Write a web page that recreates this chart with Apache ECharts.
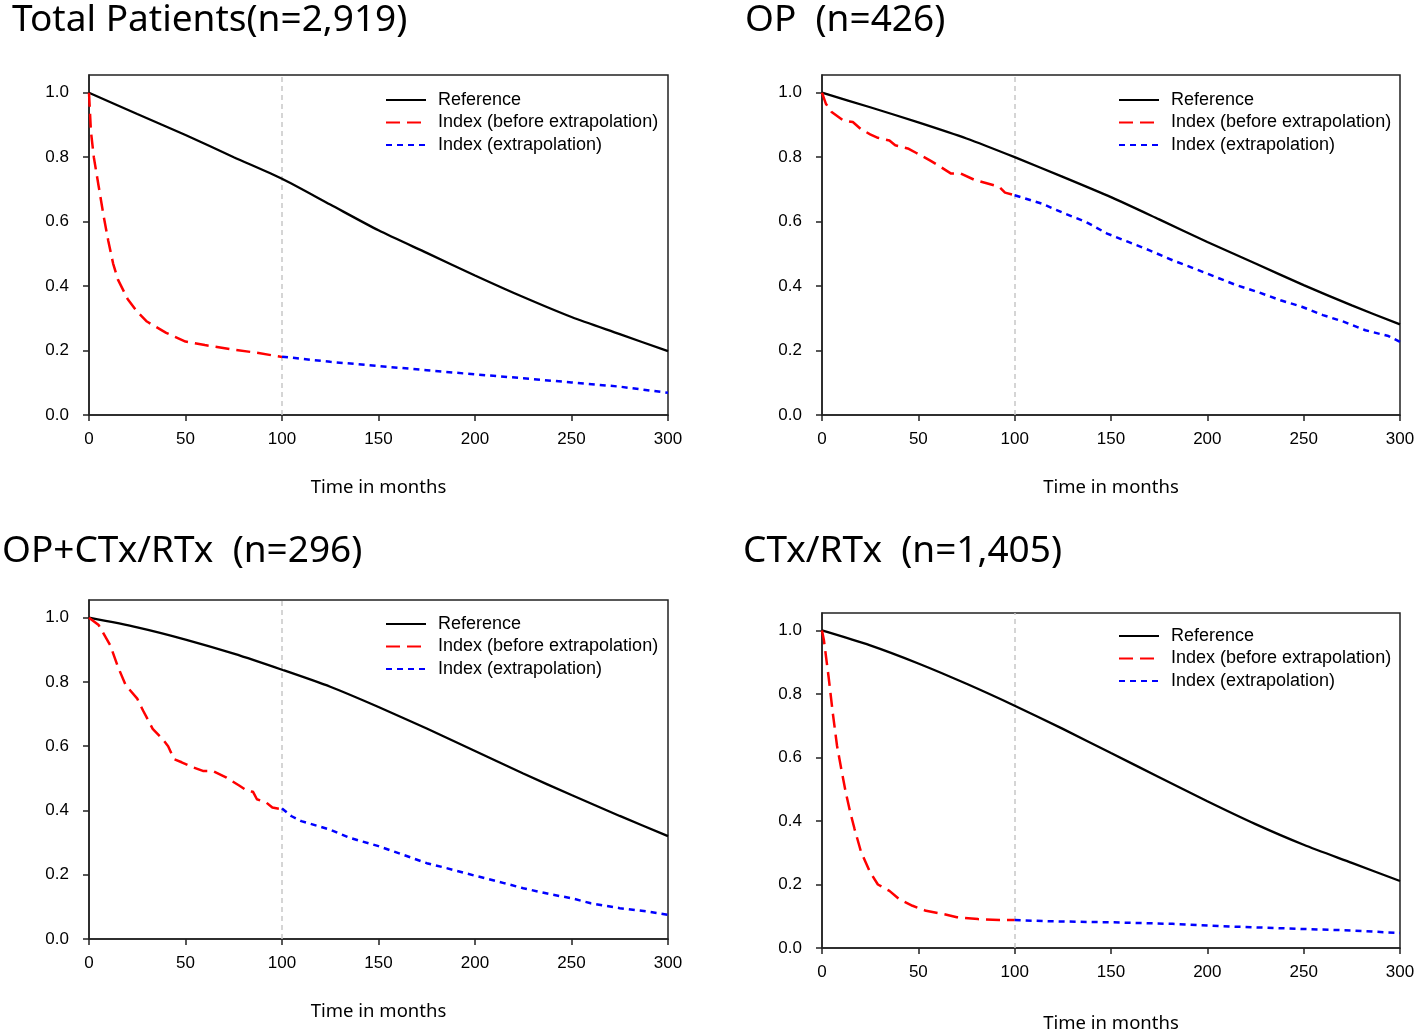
<!DOCTYPE html>
<html>
<head>
<meta charset="utf-8">
<script src="https://cdn.jsdelivr.net/npm/echarts@6/dist/echarts.min.js"></script>
<style>
  html, body { margin: 0; padding: 0; background: #fff; }
  #main { width: 1418px; height: 1034px; }
</style>
</head>
<body>
<div id="main"></div>
<script>
var chart = echarts.init(document.getElementById('main'));

var panelTitles = ['Total Patients(n=2,919)', 'OP  (n=426)', 'OP+CTx/RTx  (n=296)', 'CTx/RTx  (n=1,405)'];
var seriesNames = ['Reference', 'Index (before extrapolation)', 'Index (extrapolation)'];
var xTicks = [0, 50, 100, 150, 200, 250, 300];
var yTicks = [0, 0.2, 0.4, 0.6, 0.8, 1.0];

// reference curves, sampled every 25 months
var refMonths = [0, 25, 50, 75, 100, 125, 150, 175, 200, 225, 250, 275, 300];
var totalRef = [1.0, 0.934, 0.869, 0.800, 0.733, 0.653, 0.573, 0.503, 0.433, 0.366, 0.304, 0.251, 0.198];
var opRef = [1.0, 0.955, 0.908, 0.858, 0.80, 0.739, 0.676, 0.607, 0.537, 0.47, 0.403, 0.34, 0.281];
var opctRef = [1.0, 0.97, 0.932, 0.888, 0.838, 0.785, 0.722, 0.655, 0.585, 0.515, 0.448, 0.383, 0.32];
var ctrtRef = [1.0, 0.953, 0.896, 0.832, 0.763, 0.69, 0.614, 0.538, 0.462, 0.39, 0.325, 0.268, 0.211];

// index, observed part (0-100 months)
var totalIdxMonths = [0, 1, 2.5, 5, 7.5, 10, 12.5, 15, 20, 25, 30, 40, 50, 60, 75, 87, 100];
var totalIdx = [1.0, 0.88, 0.80, 0.71, 0.62, 0.54, 0.47, 0.42, 0.36, 0.32, 0.29, 0.255, 0.228, 0.217, 0.203, 0.193, 0.18];
var opIdxMonths = [0, 2, 5, 11, 16, 20, 25, 29, 35, 38, 45, 49, 56, 61, 67, 72, 79, 85, 92, 95, 100];
var opIdx = [1.0, 0.966, 0.94, 0.914, 0.909, 0.888, 0.871, 0.86, 0.852, 0.837, 0.826, 0.813, 0.79, 0.772, 0.749, 0.749, 0.73, 0.72, 0.708, 0.69, 0.682];
var opctIdxMonths = [0, 5, 11, 15, 19, 25, 28, 33, 38, 41, 44, 48, 54, 59, 64, 71, 78, 82, 85, 87, 92, 95, 100];
var opctIdx = [1.0, 0.977, 0.914, 0.847, 0.79, 0.748, 0.711, 0.654, 0.623, 0.6, 0.56, 0.55, 0.534, 0.523, 0.523, 0.503, 0.477, 0.461, 0.458, 0.435, 0.424, 0.409, 0.404];
var ctrtIdxMonths = [0, 1, 3.4, 5.6, 7.8, 10, 12.3, 14.6, 16.8, 20.2, 24.7, 29, 35, 40, 47, 54, 63, 70, 81, 92, 100];
var ctrtIdx = [1.0, 0.969, 0.855, 0.74, 0.637, 0.564, 0.491, 0.429, 0.377, 0.304, 0.242, 0.2, 0.18, 0.154, 0.133, 0.117, 0.107, 0.097, 0.091, 0.088, 0.088];

// index, extrapolated part (100-300 months)
var totalExtMonths = [100, 125, 150, 175, 200, 225, 250, 275, 300];
var totalExt = [0.181, 0.165, 0.152, 0.139, 0.126, 0.114, 0.101, 0.088, 0.069];
var opExtMonths = [100, 114, 126, 137, 148, 159, 170, 182, 193, 204, 215, 226, 238, 249, 260, 271, 282, 294, 300];
var opExt = [0.682, 0.656, 0.625, 0.599, 0.563, 0.537, 0.511, 0.48, 0.455, 0.429, 0.403, 0.382, 0.356, 0.336, 0.31, 0.289, 0.263, 0.245, 0.227];
var opctExtMonths = [100, 105, 110, 125, 135, 150, 160, 175, 185, 200, 215, 225, 240, 250, 260, 275, 290, 300];
var opctExt = [0.406, 0.382, 0.367, 0.34, 0.315, 0.289, 0.268, 0.236, 0.221, 0.197, 0.174, 0.158, 0.138, 0.127, 0.111, 0.096, 0.085, 0.075];
var ctrtExtMonths = [100, 119, 150, 182, 215, 249, 276, 300];
var ctrtExt = [0.088, 0.084, 0.081, 0.076, 0.067, 0.06, 0.055, 0.047];

var panels = [
    { ref: totalRef, idxM: totalIdxMonths, idx: totalIdx, extM: totalExtMonths, ext: totalExt },
    { ref: opRef, idxM: opIdxMonths, idx: opIdx, extM: opExtMonths, ext: opExt },
    { ref: opctRef, idxM: opctIdxMonths, idx: opctIdx, extM: opctExtMonths, ext: opctExt },
    { ref: ctrtRef, idxM: ctrtIdxMonths, idx: ctrtIdx, extM: ctrtExtMonths, ext: ctrtExt }
];

// layout of the four plot boxes
var grids = [
    { left: 89, top: 75, width: 579, height: 340, nameGap: 63 },
    { left: 822, top: 75, width: 578, height: 340, nameGap: 63 },
    { left: 89, top: 600, width: 579, height: 339, nameGap: 63 },
    { left: 822, top: 613, width: 578, height: 338, nameGap: 66 }
];
var titlePos = [
    { left: 12, top: 2 },
    { left: 745, top: 2 },
    { left: 2, top: 533 },
    { left: 743, top: 533 }
];
var legendPos = [
    { left: 385, top: 91 },
    { left: 1118, top: 91 },
    { left: 385, top: 615 },
    { left: 1118, top: 627 }
];

function pairs(xs, ys) {
    return xs.map(function (x, i) { return [x, ys[i]]; });
}

var option = {
    animation: false,
    backgroundColor: '#fff',
    title: [],
    legend: [],
    grid: [],
    xAxis: [],
    yAxis: [],
    series: []
};

for (var i = 0; i < 4; i++) {
    var g = grids[i];
    option.grid.push({
        left: g.left, top: g.top, width: g.width, height: g.height,
        show: true, borderColor: '#222', borderWidth: 1.5, backgroundColor: '#fff'
    });
    option.title.push({
        text: panelTitles[i],
        left: titlePos[i].left,
        top: titlePos[i].top,
        padding: 0,
        textStyle: { fontFamily: 'Noto Sans', fontWeight: 'normal', fontSize: 37, color: '#000' }
    });
    option.legend.push({
        orient: 'vertical',
        left: legendPos[i].left,
        top: legendPos[i].top,
        padding: 0,
        itemWidth: 40,
        itemHeight: 14,
        itemGap: 4.5,
        itemStyle: { opacity: 0 },
        data: seriesNames,
        textStyle: { fontFamily: 'Liberation Sans', fontSize: 18, color: '#000', padding: [0, 0, 0, 7] }
    });
    option.xAxis.push({
        type: 'value',
        gridIndex: i,
        min: 0, max: 300, interval: 50,
        name: 'Time in months',
        nameLocation: 'middle',
        nameGap: g.nameGap,
        nameTextStyle: { fontFamily: 'Noto Sans', fontSize: 18.5, color: '#000' },
        splitLine: { show: false },
        axisLine: { lineStyle: { color: '#222', width: 1.5 } },
        axisTick: { length: 6, lineStyle: { color: '#222', width: 1.5 } },
        axisLabel: { margin: 16, fontFamily: 'Liberation Sans', fontSize: 17, color: '#000' }
    });
    option.yAxis.push({
        type: 'value',
        gridIndex: i,
        min: 0, max: 1.055,
        splitLine: { show: false },
        axisLine: { onZero: false, lineStyle: { color: '#222', width: 1.5 } },
        axisTick: { length: 6, customValues: yTicks, lineStyle: { color: '#222', width: 1.5 } },
        axisLabel: {
            margin: 20, customValues: yTicks,
            fontFamily: 'Liberation Sans', fontSize: 17, color: '#000',
            formatter: function (v) { return v.toFixed(1); }
        }
    });

    var p = panels[i];
    option.series.push({
        name: seriesNames[0],
        type: 'line',
        xAxisIndex: i, yAxisIndex: i,
        symbol: 'none',
        smooth: 0.25,
        lineStyle: { color: '#000', width: 2.3 },
        itemStyle: { color: '#000' },
        data: pairs(refMonths, p.ref),
        z: 3,
        markLine: {
            silent: true,
            symbol: ['none', 'none'],
            label: { show: false },
            lineStyle: { color: '#c8c8c8', type: [5, 4], width: 1.5 },
            data: [{ xAxis: 100 }],
            z: 1
        }
    });
    option.series.push({
        name: seriesNames[1],
        type: 'line',
        xAxisIndex: i, yAxisIndex: i,
        symbol: 'none',
        lineStyle: { color: '#ff0000', width: 2.5, type: [14, 7] },
        itemStyle: { color: '#ff0000' },
        data: pairs(p.idxM, p.idx),
        z: 4
    });
    option.series.push({
        name: seriesNames[2],
        type: 'line',
        xAxisIndex: i, yAxisIndex: i,
        symbol: 'none',
        lineStyle: { color: '#0000ff', width: 2.5, type: [6, 5] },
        itemStyle: { color: '#0000ff' },
        data: pairs(p.extM, p.ext),
        z: 4
    });
}

chart.setOption(option);
</script>
</body>
</html>
